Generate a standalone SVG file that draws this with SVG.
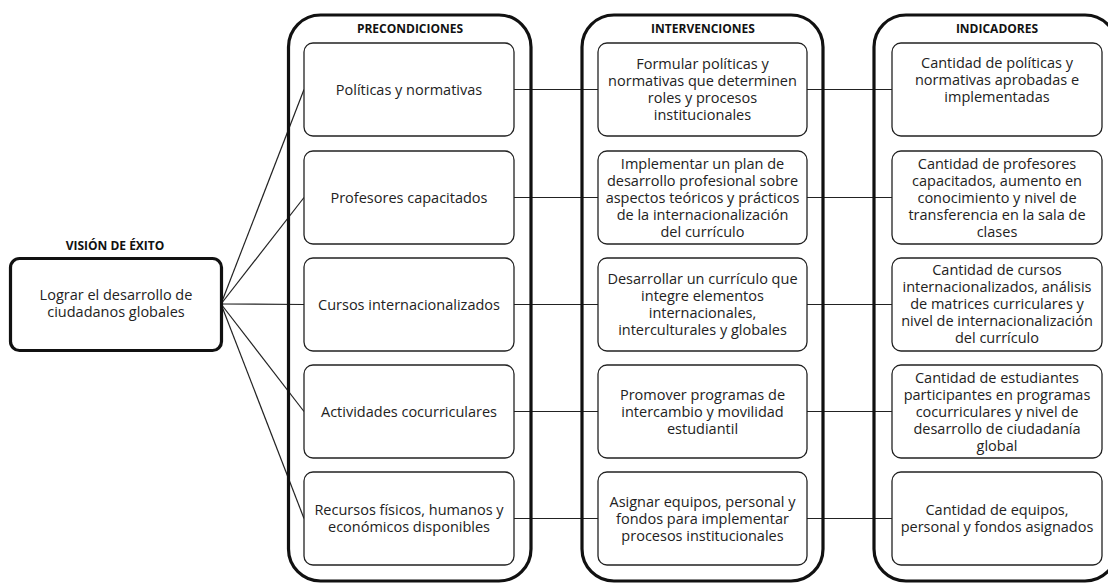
<svg xmlns="http://www.w3.org/2000/svg" width="1108" height="583" viewBox="0 0 1108 583">
<style>
.col{fill:none;stroke:#111;stroke-width:3.2}
.box{fill:#fff;stroke:#222;stroke-width:1.3}
.vis{fill:#fff;stroke:#111;stroke-width:3.2}
.t{font-family:"Open Sans","Noto Sans",sans-serif;font-size:14.5px;fill:#222;text-anchor:middle}
.h{font-family:"Open Sans","Noto Sans",sans-serif;font-size:12px;font-weight:bold;fill:#111;text-anchor:middle}
.c{stroke:#222;stroke-width:1.2;fill:none}
</style>
<rect width="1108" height="583" fill="#fff"/>
<g id="connectors">
<line class="c" x1="221" y1="304" x2="304" y2="89.5"/>
<line class="c" x1="221" y1="304" x2="304" y2="197.5"/>
<line class="c" x1="221" y1="304" x2="304" y2="304.5"/>
<line class="c" x1="221" y1="304" x2="304" y2="411.5"/>
<line class="c" x1="221" y1="304" x2="304" y2="518.5"/>
<line class="c" x1="514" y1="89.5" x2="598" y2="89.5"/>
<line class="c" x1="514" y1="197.5" x2="598" y2="197.5"/>
<line class="c" x1="514" y1="304.5" x2="598" y2="304.5"/>
<line class="c" x1="514" y1="411.5" x2="598" y2="411.5"/>
<line class="c" x1="514" y1="518.5" x2="598" y2="518.5"/>
<line class="c" x1="807" y1="89.5" x2="892" y2="89.5"/>
<line class="c" x1="807" y1="197.5" x2="892" y2="197.5"/>
<line class="c" x1="807" y1="304.5" x2="892" y2="304.5"/>
<line class="c" x1="807" y1="411.5" x2="892" y2="411.5"/>
<line class="c" x1="807" y1="518.5" x2="892" y2="518.5"/>
</g>
<g id="columns">
<rect class="col" x="288.5" y="15" width="242.5" height="566" rx="32"/>
<rect class="col" x="582" y="15" width="241" height="566" rx="32"/>
<rect class="col" x="874" y="15" width="243" height="566" rx="32"/>
<text class="h" x="410" y="33">PRECONDICIONES</text>
<text class="h" x="703" y="33">INTERVENCIONES</text>
<text class="h" x="997" y="33">INDICADORES</text>
</g>
<g id="vision">
<text class="h" x="115" y="250">VISIÓN DE ÉXITO</text>
<rect class="vis" x="10.5" y="258.5" width="211" height="92" rx="9"/>
<text class="t"><tspan x="116" y="300">Lograr el desarrollo de</tspan><tspan x="116" y="317">ciudadanos globales</tspan></text>
</g>
<g id="pre1"><rect class="box" x="304" y="43" width="210" height="93" rx="9"/><text class="t"><tspan x="409" y="94.5">Políticas y normativas</tspan></text></g>
<g id="pre2"><rect class="box" x="304" y="151" width="210" height="93" rx="9"/><text class="t"><tspan x="409" y="202.5">Profesores capacitados</tspan></text></g>
<g id="pre3"><rect class="box" x="304" y="258" width="210" height="93" rx="9"/><text class="t"><tspan x="409" y="309.5">Cursos internacionalizados</tspan></text></g>
<g id="pre4"><rect class="box" x="304" y="365" width="210" height="93" rx="9"/><text class="t"><tspan x="409" y="416.5">Actividades cocurriculares</tspan></text></g>
<g id="pre5"><rect class="box" x="304" y="472" width="210" height="93" rx="9"/><text class="t"><tspan x="409" y="515">Recursos físicos, humanos y</tspan><tspan x="409" y="532">económicos disponibles</tspan></text></g>
<g id="int1"><rect class="box" x="598" y="43" width="209" height="93" rx="9"/><text class="t"><tspan x="702.5" y="69">Formular políticas y</tspan><tspan x="702.5" y="86">normativas que determinen</tspan><tspan x="702.5" y="103">roles y procesos</tspan><tspan x="702.5" y="120">institucionales</tspan></text></g>
<g id="int2"><rect class="box" x="598" y="151" width="209" height="93" rx="9"/><text class="t"><tspan x="702.5" y="169">Implementar un plan de</tspan><tspan x="702.5" y="186">desarrollo profesional sobre</tspan><tspan x="702.5" y="203">aspectos teóricos y prácticos</tspan><tspan x="702.5" y="220">de la internacionalización</tspan><tspan x="702.5" y="237">del currículo</tspan></text></g>
<g id="int3"><rect class="box" x="598" y="258" width="209" height="93" rx="9"/><text class="t"><tspan x="702.5" y="284">Desarrollar un currículo que</tspan><tspan x="702.5" y="301">integre elementos</tspan><tspan x="702.5" y="318">internacionales,</tspan><tspan x="702.5" y="335">interculturales y globales</tspan></text></g>
<g id="int4"><rect class="box" x="598" y="365" width="209" height="93" rx="9"/><text class="t"><tspan x="702.5" y="399.5">Promover programas de</tspan><tspan x="702.5" y="416.5">intercambio y movilidad</tspan><tspan x="702.5" y="433.5">estudiantil</tspan></text></g>
<g id="int5"><rect class="box" x="598" y="472" width="209" height="93" rx="9"/><text class="t"><tspan x="702.5" y="507">Asignar equipos, personal y</tspan><tspan x="702.5" y="524">fondos para implementar</tspan><tspan x="702.5" y="541">procesos institucionales</tspan></text></g>
<g id="ind1"><rect class="box" x="892" y="43" width="210" height="93" rx="9"/><text class="t"><tspan x="997" y="68">Cantidad de políticas y</tspan><tspan x="997" y="85">normativas aprobadas e</tspan><tspan x="997" y="102">implementadas</tspan></text></g>
<g id="ind2"><rect class="box" x="892" y="151" width="210" height="93" rx="9"/><text class="t"><tspan x="997" y="169">Cantidad de profesores</tspan><tspan x="997" y="186">capacitados, aumento en</tspan><tspan x="997" y="203">conocimiento y nivel de</tspan><tspan x="997" y="220">transferencia en la sala de</tspan><tspan x="997" y="237">clases</tspan></text></g>
<g id="ind3"><rect class="box" x="892" y="258" width="210" height="93" rx="9"/><text class="t"><tspan x="997" y="275">Cantidad de cursos</tspan><tspan x="997" y="292">internacionalizados, análisis</tspan><tspan x="997" y="309">de matrices curriculares y</tspan><tspan x="997" y="326">nivel de internacionalización</tspan><tspan x="997" y="343">del currículo</tspan></text></g>
<g id="ind4"><rect class="box" x="892" y="365" width="210" height="93" rx="9"/><text class="t"><tspan x="997" y="382.5">Cantidad de estudiantes</tspan><tspan x="997" y="399.5">participantes en programas</tspan><tspan x="997" y="416.5">cocurriculares y nivel de</tspan><tspan x="997" y="433.5">desarrollo de ciudadanía</tspan><tspan x="997" y="450.5">global</tspan></text></g>
<g id="ind5"><rect class="box" x="892" y="472" width="210" height="93" rx="9"/><text class="t"><tspan x="997" y="515">Cantidad de equipos,</tspan><tspan x="997" y="532">personal y fondos asignados</tspan></text></g>
</svg>
